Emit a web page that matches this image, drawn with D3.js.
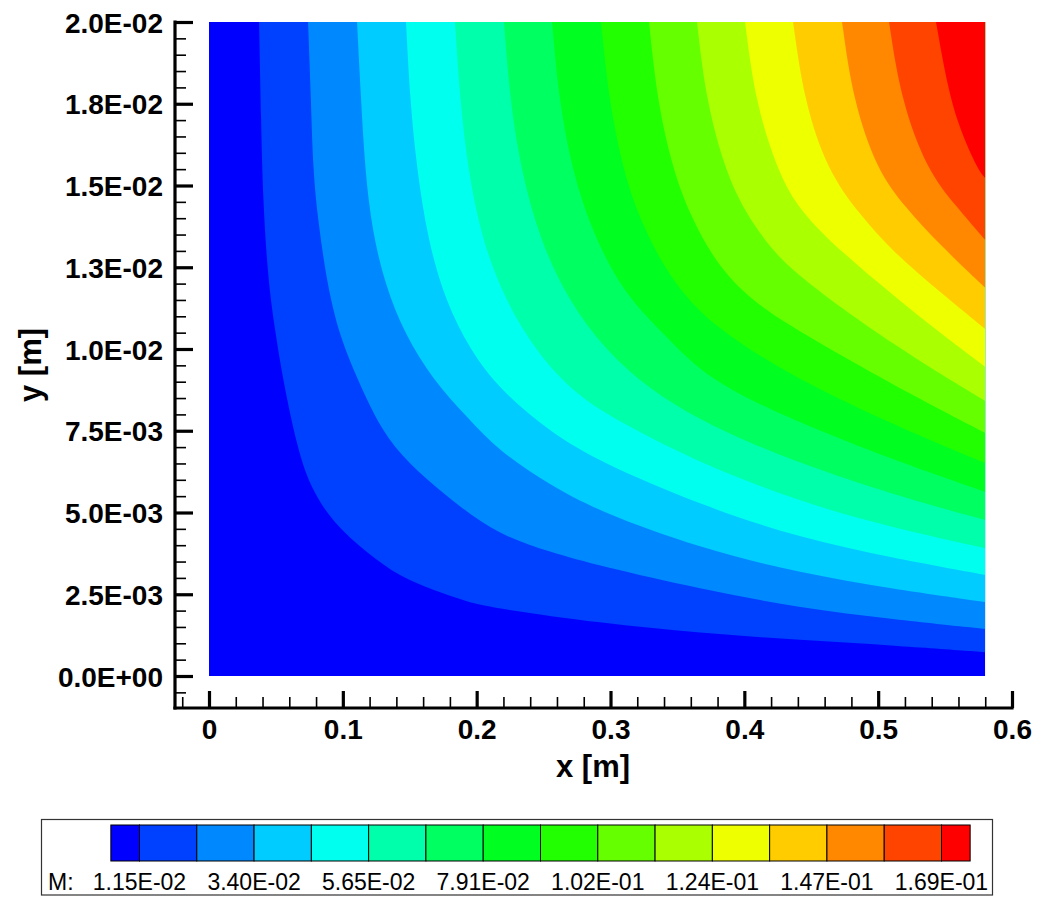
<!DOCTYPE html>
<html>
<head>
<meta charset="utf-8">
<script src="https://cdn.jsdelivr.net/npm/d3@7"></script>
<style>
body { margin: 0; background: #fff; }
text { font-family: "Liberation Sans", Arial, sans-serif; }
</style>
</head>
<body>
<script>
// contour levels of M and the legend labels (every other level)
var levels = [0.0115, 0.02276, 0.03402, 0.04528, 0.05654, 0.0678, 0.07906, 0.09032,
  0.10158, 0.11284, 0.1241, 0.13536, 0.14662, 0.15788, 0.16914];
var levelLabels = ["1.15E-02", "3.40E-02", "5.65E-02", "7.91E-02",
  "1.02E-01", "1.24E-01", "1.47E-01", "1.69E-01"];
var bandColors = ["#0000ff", "#0040ff", "#0088ff", "#00ccff", "#00ffee", "#00ffaa",
  "#00ff60", "#00ff20", "#22ff00", "#66ff00", "#aaff00", "#eeff00",
  "#ffcc00", "#ff8800", "#ff4400", "#ff0000"];

var xTicks = [0, 0.1, 0.2, 0.3, 0.4, 0.5, 0.6];
var xTickLabels = ["0", "0.1", "0.2", "0.3", "0.4", "0.5", "0.6"];
var yTicks = [0, 0.0025, 0.005, 0.0075, 0.01, 0.0125, 0.015, 0.0175, 0.02];
var yTickLabels = ["0.0E+00", "2.5E-03", "5.0E-03", "7.5E-03", "1.0E-02",
  "1.3E-02", "1.5E-02", "1.8E-02", "2.0E-02"];

// iso-lines of M (one per level), [x m, y m]
var iso01 = [[0.0374,0.02],[0.0389,0.0170],[0.0403,0.01456],[0.0441,0.01211],[0.0493,0.01058],
  [0.0553,0.00905],[0.0658,0.0070],[0.0755,0.00578],[0.0927,0.00468],[0.1181,0.00376],
  [0.1427,0.00303],[0.1674,0.00263],[0.1928,0.00226],[0.2174,0.00205],[0.2922,0.00162],
  [0.3669,0.00131],[0.4416,0.0011],[0.5163,0.00092],[0.58,0.00073]];
var iso02 = [[0.074,0.02],[0.0762,0.01761],[0.0777,0.01547],[0.0814,0.01394],[0.0889,0.0118],
  [0.0986,0.01028],[0.1113,0.00905],[0.1225,0.00804],[0.1375,0.0070],[0.1629,0.00599],
  [0.1876,0.00517],[0.2174,0.00431],[0.2548,0.00379],[0.2922,0.00336],[0.3669,0.00266],
  [0.4416,0.00208],[0.5111,0.00174],[0.58,0.00144]];
var iso03 = [[0.1106,0.02],[0.1136,0.01761],[0.1166,0.01547],[0.1218,0.01364],[0.1315,0.01196],
  [0.1465,0.01043],[0.1674,0.00905],[0.1928,0.00792],[0.2174,0.00685],[0.2548,0.00584],
  [0.2922,0.00502],[0.3669,0.00391],[0.4416,0.00315],[0.5111,0.00266],[0.58,0.00226]];
var iso04 = [[0.1472,0.02],[0.1502,0.01761],[0.1554,0.01547],[0.1636,0.01333],[0.1763,0.0115],
  [0.195,0.00997],[0.2174,0.00875],[0.2548,0.00746],[0.2922,0.00654],[0.3669,0.00523],
  [0.4416,0.00422],[0.5111,0.00361],[0.58,0.00309]];
var iso05 = [[0.1838,0.02],[0.1876,0.01761],[0.1935,0.01547],[0.204,0.01333],[0.2212,0.0115],
  [0.2436,0.00997],[0.2735,0.00859],[0.3108,0.00768],[0.3669,0.00651],[0.4416,0.00532],
  [0.5111,0.00453],[0.58,0.00391]];
var iso06 = [[0.2204,0.02],[0.2249,0.01761],[0.2331,0.01547],[0.2473,0.01333],[0.2683,0.0115],
  [0.2959,0.00997],[0.3295,0.00875],[0.3669,0.00783],[0.4042,0.00713],[0.4416,0.00651],
  [0.5111,0.00554],[0.58,0.00477]];
var iso07 = [[0.2563,0.02],[0.2615,0.01761],[0.2712,0.01547],[0.2869,0.01349],[0.3108,0.01165],
  [0.3407,0.01043],[0.3669,0.0093],[0.4042,0.00844],[0.4416,0.00774],[0.5111,0.00661],
  [0.58,0.00563]];
var iso08 = [[0.2929,0.02],[0.2989,0.01761],[0.3093,0.01547],[0.3221,0.01394],[0.3407,0.01242],
  [0.3669,0.01104],[0.4042,0.00997],[0.4416,0.00905],[0.5111,0.00768],[0.58,0.00651]];
var iso09 = [[0.3288,0.02],[0.3348,0.01761],[0.3467,0.01547],[0.3594,0.0141],[0.3781,0.01266],
  [0.4042,0.0115],[0.4416,0.01052],[0.5111,0.0089],[0.58,0.00743]];
var iso10 = [[0.3646,0.02],[0.3714,0.01761],[0.3856,0.01547],[0.4005,0.01419],[0.4192,0.01309],
  [0.4416,0.01217],[0.5111,0.01012],[0.58,0.00841]];
var iso11 = [[0.4005,0.02],[0.408,0.01761],[0.4244,0.01547],[0.4416,0.01419],[0.4752,0.01287],
  [0.5111,0.01165],[0.5462,0.01049],[0.58,0.00945]];
var iso12 = [[0.4364,0.02],[0.4446,0.01761],[0.4618,0.01547],[0.4864,0.0141],
  [0.5111,0.01297],[0.5462,0.01174],[0.58,0.01061]];
var iso13 = [[0.473,0.02],[0.4812,0.01761],[0.4991,0.01547],[0.5201,0.01434],
  [0.5462,0.01318],[0.58,0.01187]];
var iso14 = [[0.5081,0.02],[0.5171,0.01761],[0.5365,0.01547],[0.5574,0.0144],
  [0.58,0.01333]];
var iso15 = [[0.5432,0.02],[0.5522,0.01792],[0.5612,0.0167],[0.5746,0.01547],
  [0.58,0.01523]];
var isolines = [iso01, iso02, iso03, iso04, iso05, iso06, iso07, iso08,
  iso09, iso10, iso11, iso12, iso13, iso14, iso15];

var xMax = 0.58, yMax = 0.02;

var svg = d3.select("body").append("svg")
  .attr("width", 1037)
  .attr("height", 897);

var x = d3.scaleLinear().domain([0, 0.6]).range([209, 1012]);
var y = d3.scaleLinear().domain([0, 0.02]).range([676, 22]);

// flood contours
svg.append("clipPath").attr("id", "plotClip")
  .append("rect")
  .attr("x", x(0)).attr("y", y(yMax))
  .attr("width", x(xMax) - x(0)).attr("height", y(0) - y(yMax));

var plot = svg.append("g").attr("clip-path", "url(#plotClip)");

plot.append("rect")
  .attr("x", x(0)).attr("y", y(yMax))
  .attr("width", x(xMax) - x(0)).attr("height", y(0) - y(yMax))
  .attr("fill", bandColors[0]);

var line = d3.line()
  .x(function(d){ return x(d[0]); })
  .y(function(d){ return y(d[1]); })
  .curve(d3.curveBasis);

isolines.forEach(function(pts, i){
  // area above / right of the iso-line, closed through the top-right corner
  var d = line(pts) + "L" + x(xMax) + "," + y(yMax) + "Z";
  plot.append("path")
    .attr("d", d)
    .attr("fill", bandColors[i + 1]);
});

// axes (offset from the plot, Tecplot style)
var yAxisX = 175, xAxisY = 708;

var yMinor = d3.range(-1, 41).filter(function(i){ return i % 5 !== 0; })
  .map(function(i){ return i * 0.0005; });
var xMinor = d3.range(-1, 31).filter(function(i){ return i % 5 !== 0; })
  .map(function(i){ return i * 0.02; });

var gy = svg.append("g").attr("transform", "translate(" + yAxisX + ",0)");
gy.append("g")
  .call(d3.axisLeft(y).tickValues(yMinor).tickSize(-11).tickSizeOuter(0).tickFormat(""))
  .call(function(g){ g.select(".domain").remove(); })
  .selectAll("line").attr("stroke-width", 1.6);
gy.append("g")
  .call(d3.axisLeft(y).tickValues(yTicks).tickSize(-18).tickSizeOuter(0).tickPadding(12)
    .tickFormat(function(d, i){ return yTickLabels[i]; }))
  .call(function(g){ g.select(".domain").remove(); })
  .call(function(g){ g.selectAll("line").attr("stroke-width", 3.2); })
  .call(function(g){ g.selectAll("text")
    .attr("font-size", 28).attr("font-weight", "bold").attr("fill", "#000")
    .attr("font-family", "Liberation Sans, Arial, sans-serif").attr("dy", "0.36em"); });
gy.append("line")
  .attr("x1", 0).attr("x2", 0)
  .attr("y1", y(yMax) - 1.6).attr("y2", xAxisY + 1.6)
  .attr("stroke", "#000").attr("stroke-width", 3.2);

var gx = svg.append("g").attr("transform", "translate(0," + xAxisY + ")");
gx.append("g")
  .call(d3.axisBottom(x).tickValues(xMinor).tickSize(-11).tickSizeOuter(0).tickFormat(""))
  .call(function(g){ g.select(".domain").remove(); })
  .selectAll("line").attr("stroke-width", 1.6);
gx.append("g")
  .call(d3.axisBottom(x).tickValues(xTicks).tickSize(-17).tickSizeOuter(0).tickPadding(11)
    .tickFormat(function(d, i){ return xTickLabels[i]; }))
  .call(function(g){ g.select(".domain").remove(); })
  .call(function(g){ g.selectAll("line").attr("stroke-width", 3.2); })
  .call(function(g){ g.selectAll("text")
    .attr("font-size", 28).attr("font-weight", "bold").attr("fill", "#000")
    .attr("font-family", "Liberation Sans, Arial, sans-serif"); });
gx.append("line")
  .attr("x1", yAxisX - 1.6).attr("x2", x(0.6) + 1.6)
  .attr("y1", 0).attr("y2", 0)
  .attr("stroke", "#000").attr("stroke-width", 3.2);

// axis titles
svg.append("text")
  .attr("x", 593).attr("y", 777)
  .attr("text-anchor", "middle")
  .attr("font-size", 31).attr("font-weight", "bold")
  .text("x [m]");
svg.append("text")
  .attr("transform", "translate(41,365) rotate(-90)")
  .attr("text-anchor", "middle")
  .attr("font-size", 31).attr("font-weight", "bold")
  .text("y [m]");

// legend
var legend = svg.append("g");
legend.append("rect")
  .attr("x", 41.5).attr("y", 819.5)
  .attr("width", 951).attr("height", 75.5)
  .attr("fill", "#fff").attr("stroke", "#333").attr("stroke-width", 1.2);

var legX = d3.scaleLinear().domain([levels[0], levels[levels.length - 1]]).range([139.5, 941.5]);
var half = (legX(levels[1]) - legX(levels[0])) / 2;
var edges = [legX(levels[0]) - half].concat(levels.map(legX))
  .concat([legX(levels[levels.length - 1]) + half]);

legend.selectAll("rect.box")
  .data(bandColors)
  .enter().append("rect")
  .attr("class", "box")
  .attr("x", function(d, i){ return edges[i]; })
  .attr("width", function(d, i){ return edges[i + 1] - edges[i]; })
  .attr("y", 825).attr("height", 36)
  .attr("fill", function(d){ return d; })
  .attr("stroke", "#000").attr("stroke-width", 1);

legend.append("text")
  .attr("x", 48).attr("y", 890)
  .attr("font-size", 23)
  .text("M:");

legend.selectAll("text.lab")
  .data(levelLabels)
  .enter().append("text")
  .attr("class", "lab")
  .attr("x", function(d, i){ return legX(levels[i * 2]); })
  .attr("y", 890)
  .attr("text-anchor", "middle")
  .attr("font-size", 23)
  .text(function(d){ return d; });
</script>
</body>
</html>
